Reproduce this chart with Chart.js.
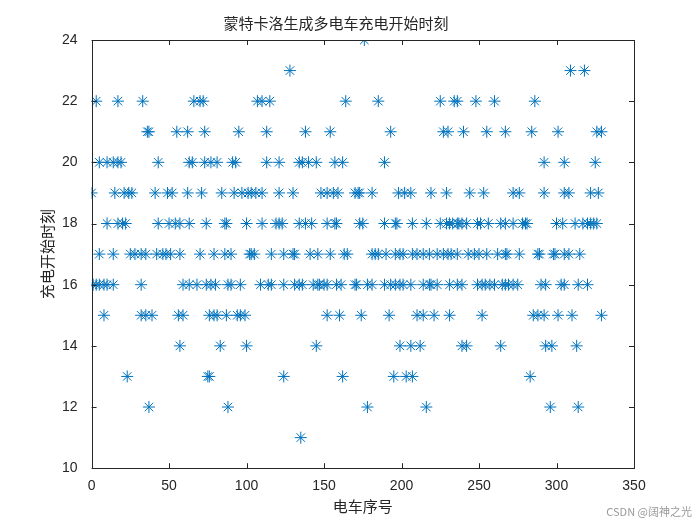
<!DOCTYPE html>
<html><head><meta charset="utf-8">
<script src="https://cdn.jsdelivr.net/npm/chart.js@4/dist/chart.umd.min.js"></script>
<style>html,body{margin:0;padding:0;background:#fff}#w{width:700px;height:525px}</style>
</head><body><div id="w"><canvas id="c"></canvas></div>
<script>
// car indices (x) at each start hour (y)
const h24=[176];
const h23=[128,309,318];
const h22=[3,17,33,66,70,72,107,110,115,164,185,225,234,236,248,260,286];
const h21=[36,37,55,62,73,95,113,138,154,193,227,230,240,255,267,284,301,326,329];
const h20=[5,10,14,17,19,43,63,65,73,77,81,91,93,113,121,134,136,140,145,157,162,189,292,305,325];
const h19=[0,15,21,24,26,41,49,52,62,71,84,92,97,101,103,106,110,121,130,148,152,156,159,170,172,173,181,198,202,206,219,229,244,253,272,276,292,305,308,322,327];
const h18=[10,17,20,22,43,50,54,57,63,74,86,87,100,110,119,121,123,134,138,142,152,157,158,173,175,189,196,197,207,216,225,229,231,233,236,237,239,242,249,251,256,264,267,272,278,280,281,300,304,312,317,320,322,324,326];
const h17=[5,14,25,28,32,35,42,46,48,51,57,70,79,86,90,102,103,105,116,124,130,131,141,146,154,163,165,181,183,185,190,196,199,201,207,210,214,218,223,227,230,232,236,243,247,250,255,262,267,268,276,288,289,298,299,305,308,315];
const h16=[1,3,5,8,10,14,32,59,63,68,74,77,80,88,90,96,109,114,116,124,131,134,136,143,146,147,150,152,158,161,170,171,178,181,189,193,196,199,201,206,214,218,219,223,231,236,239,249,252,254,257,260,265,267,269,272,275,290,293,303,305,314,320];
const h15=[8,32,35,39,56,59,76,79,81,87,94,96,99,152,160,174,192,210,214,221,231,252,285,288,292,301,310,329];
const h14=[57,83,100,145,199,206,212,239,242,264,293,297,313];
const h13=[23,75,76,124,162,195,203,207,283];
const h12=[37,88,178,216,296,314];
const h11=[135];
const hours=[24,23,22,21,20,19,18,17,16,15,14,13,12,11];
const groups=[h24,h23,h22,h21,h20,h19,h18,h17,h16,h15,h14,h13,h12,h11];
const pts=[];
groups.forEach((g,i)=>g.forEach(x=>pts.push({x:x,y:hours[i]})));
const FONT='"Noto Sans CJK SC", sans-serif';
const deco={id:'deco',
 afterDraw(ch){const a=ch.chartArea,c=ch.ctx;c.save();c.strokeStyle='#262626';c.lineWidth=1;
  c.strokeRect(Math.round(a.left)+0.5,Math.round(a.top)+0.5,Math.round(a.right-a.left),Math.round(a.bottom-a.top));
  const xs=ch.scales.x,ys=ch.scales.y;
  for(let v=0;v<=350;v+=50){const p=Math.round(xs.getPixelForValue(v))+0.5;
   c.beginPath();c.moveTo(p,a.bottom);c.lineTo(p,a.bottom-5);c.moveTo(p,a.top);c.lineTo(p,a.top+5);c.stroke();}
  for(let v=10;v<=24;v+=2){const p=Math.round(ys.getPixelForValue(v))+0.5;
   c.beginPath();c.moveTo(a.left,p);c.lineTo(a.left+5,p);c.moveTo(a.right,p);c.lineTo(a.right-5,p);c.stroke();}
  c.fillStyle='#999';c.font='11px '+FONT;c.textAlign='right';c.fillText('CSDN @阔神之光',692,516);
  c.restore();}};
new Chart(document.getElementById('c'),{type:'scatter',
 data:{datasets:[{data:pts,pointStyle:'star',radius:6,borderColor:'#0072BD',backgroundColor:'#0072BD',borderWidth:1}]},
 options:{responsive:true,maintainAspectRatio:false,animation:false,
  layout:{padding:{left:38,right:66,top:8,bottom:6}},
  plugins:{legend:{display:false},tooltip:{enabled:false},
   title:{display:true,text:'蒙特卡洛生成多电车充电开始时刻',color:'#262626',font:{family:FONT,size:15,weight:'normal'},padding:{top:6,bottom:8}}},
  scales:{
   x:{type:'linear',min:0,max:350,ticks:{stepSize:50,color:'#262626',font:{family:'Arial',size:14},padding:2},
      grid:{display:false},border:{display:false},
      title:{display:true,text:'电车序号',color:'#262626',font:{family:FONT,size:15},padding:{top:0}}},
   y:{type:'linear',min:10,max:24,ticks:{stepSize:2,color:'#262626',font:{family:'Arial',size:14},padding:6},
      grid:{display:false},border:{display:false},
      title:{display:true,text:'充电开始时刻',color:'#262626',font:{family:FONT,size:15},padding:{top:0,bottom:0}}}
  }},
 plugins:[deco]});
</script></body></html>
